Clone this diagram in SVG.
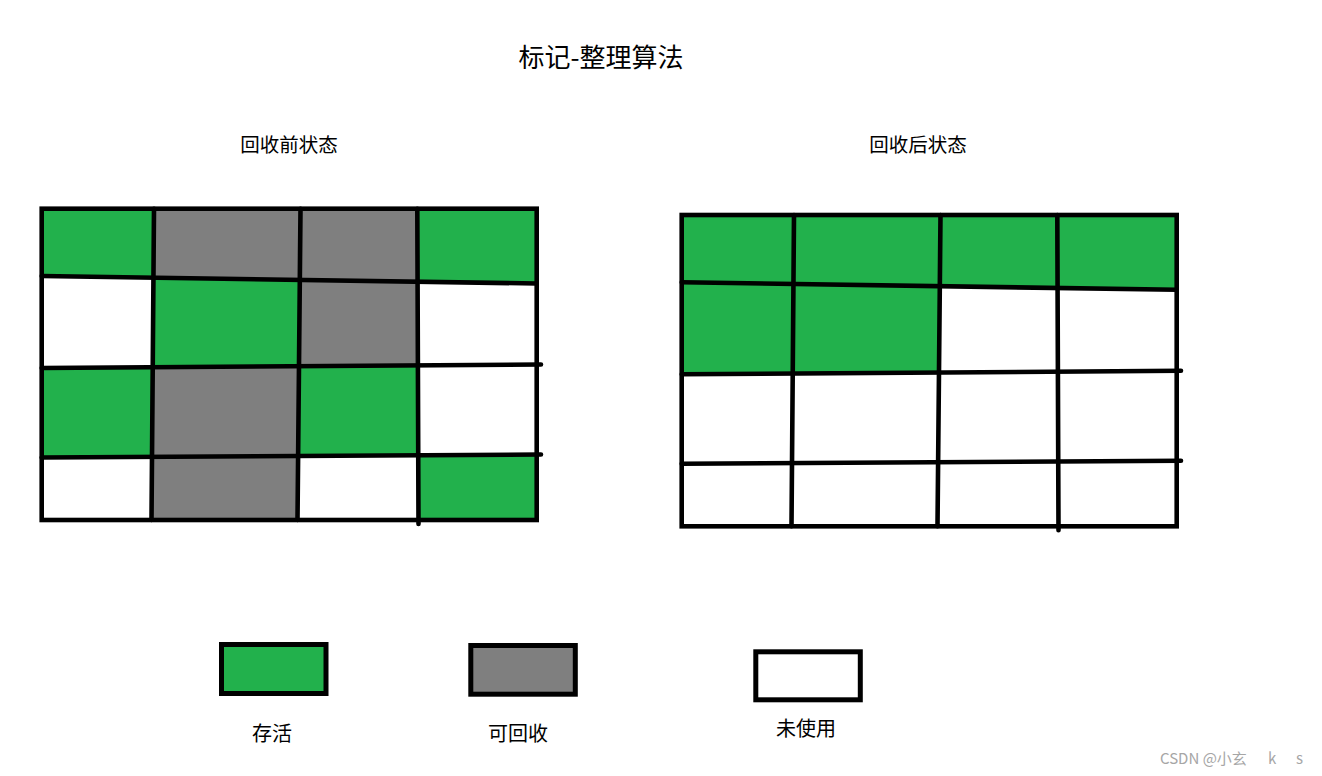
<svg xmlns="http://www.w3.org/2000/svg" xmlns:xlink="http://www.w3.org/1999/xlink" width="1322" height="776" viewBox="0 0 1322 776">
<style>
.g{fill:#22B14C}
.r{fill:#7F7F7F}
.ln{stroke:#000;stroke-width:4.6;fill:none;stroke-linecap:round;stroke-linejoin:miter}
.box{stroke:#000;stroke-width:5}
.t{font-family:"Microsoft YaHei","Noto Sans CJK SC","Noto Sans",sans-serif;fill:#000}
.wm{font-family:"Microsoft YaHei","Noto Sans CJK SC","Noto Sans",sans-serif;fill:#a6a6a6;font-size:15px}
</style>
<defs>
<g id="gridLines" class="ln">
<rect x="41.7" y="208.7" width="495" height="311.3"/>
<line x1="154" y1="208.7" x2="151.5" y2="520"/>
<line x1="300.5" y1="208.7" x2="297.5" y2="520"/>
<line x1="417.3" y1="208.7" x2="418.5" y2="524"/>
<line x1="41.7" y1="276" x2="536.7" y2="283.5"/>
<line x1="41.7" y1="368" x2="541" y2="364.5"/>
<line x1="41.7" y1="457.5" x2="541" y2="454.5"/>
</g>
</defs>
<rect width="1322" height="776" fill="#fff"/>
<g id="title">
<text class="t" x="601" y="67" font-size="26" text-anchor="middle">标记-整理算法</text>
</g>
<g id="grid-before">
<text class="t" x="289" y="152" font-size="19.5" text-anchor="middle">回收前状态</text>
<polygon class="g" points="41.7,208.7 154,208.7 153.5,277.7 41.7,276"/>
<polygon class="r" points="154,208.7 417.3,208.7 417.6,281.7 153.5,277.7"/>
<polygon class="g" points="417.3,208.7 536.7,208.7 536.7,283.5 417.6,281.7"/>
<polygon class="g" points="153.5,277.7 299.8,279.9 299,366.2 152.7,367.2"/>
<polygon class="r" points="299.8,279.9 417.6,281.7 417.9,365.3 299,366.2"/>
<polygon class="g" points="41.7,368 152.7,367.2 152,456.8 41.7,457.5"/>
<polygon class="r" points="152.7,367.2 299,366.2 297.5,520 151.5,520"/>
<polygon class="g" points="299,366.2 417.9,365.3 418.3,455.2 298.1,455.9"/>
<polygon class="g" points="418.3,455.2 536.7,454.5 536.7,520 418.5,520"/>
<use xlink:href="#gridLines"/>
</g>
<g id="grid-after">
<text class="t" x="918" y="152" font-size="19.5" text-anchor="middle">回收后状态</text>
<g transform="translate(640,6.3)">
<polygon class="g" points="41.7,208.7 536.7,208.7 536.7,283.5 41.7,276"/>
<polygon class="g" points="41.7,276 299.8,279.9 299,366.2 41.7,368"/>
<use xlink:href="#gridLines"/>
</g>
</g>
<g id="legend-live">
<rect class="box g" x="221.5" y="644.5" width="104.5" height="49"/>
<text class="t" x="272" y="740.5" font-size="20" text-anchor="middle">存活</text>
</g>
<g id="legend-reclaim">
<rect class="box r" x="470.8" y="645.5" width="104.5" height="48.7"/>
<text class="t" x="518" y="741" font-size="20" text-anchor="middle">可回收</text>
</g>
<g id="legend-unused">
<rect class="box" fill="#fff" x="755.8" y="651.8" width="104.5" height="48"/>
<text class="t" x="806" y="735.5" font-size="20" text-anchor="middle">未使用</text>
</g>
<g id="watermark">
<text class="wm" y="764"><tspan x="1160">CSDN @小玄</tspan><tspan x="1268">k</tspan><tspan x="1296">s</tspan></text>
</g>
</svg>
